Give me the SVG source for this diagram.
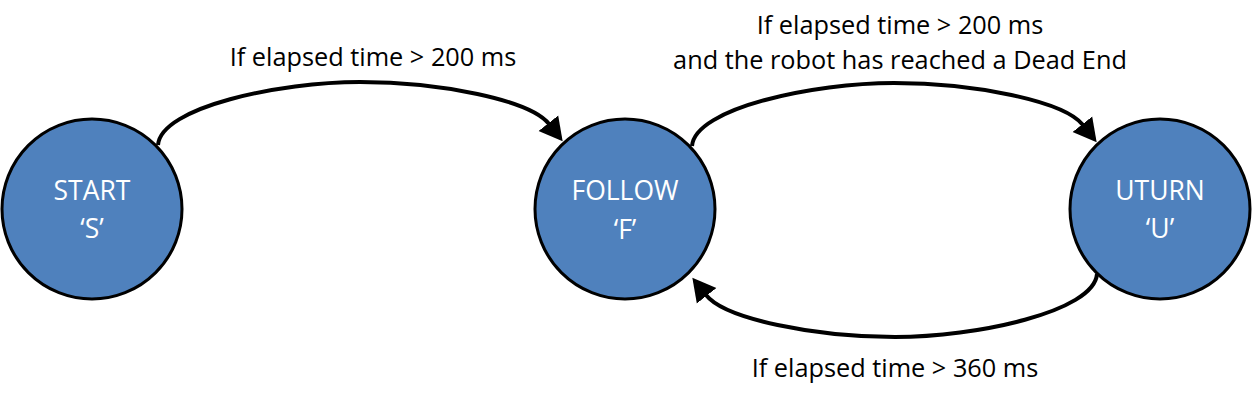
<svg xmlns="http://www.w3.org/2000/svg" width="1252" height="403" viewBox="0 0 1252 403">
<style>
.node{fill:#4F81BD;stroke:#000;stroke-width:3}
.nt{font-family:"Open Sans","Liberation Sans",sans-serif;font-size:26.5px;fill:#fff;text-anchor:middle}
.edge{fill:none;stroke:#000;stroke-width:4}
.lbl{font-family:"Open Sans","Liberation Sans",sans-serif;font-size:25.3px;fill:#000;text-anchor:middle}
</style>
<defs>
<marker id="arr" markerUnits="userSpaceOnUse" viewBox="0 -13 24 26" refX="1" refY="0" markerWidth="24" markerHeight="26" orient="auto">
<path d="M0,-12.5 L23,0 L0,12.5 Z" fill="#000"/>
</marker>
</defs>
<g id="connectors">
<path class="edge" marker-end="url(#arr)" d="M158,145 C161,107 280,82 360,82 C440,82 530,100 549,124"/>
<path class="edge" marker-end="url(#arr)" d="M692,146 C695,108 814,83 894,83 C974,83 1064,101 1083,125"/>
<path class="edge" marker-end="url(#arr)" d="M1097,274 C1094,312 975,337 895,337 C815,337 725,319 706,295"/>
<text class="lbl" x="373" y="66">If elapsed time &gt; 200 ms</text>
<text class="lbl" x="900" y="34">If elapsed time &gt; 200 ms</text>
<text class="lbl" x="900" y="69">and the robot has reached a Dead End</text>
<text class="lbl" x="895" y="377">If elapsed time &gt; 360 ms</text>
</g>
<g id="start">
<circle class="node" cx="92" cy="209" r="90"/>
<text class="nt" x="92" y="200">START</text>
<text class="nt" x="92" y="238">‘S’</text>
</g>
<g id="follow">
<circle class="node" cx="625" cy="209" r="90"/>
<text class="nt" x="625" y="200">FOLLOW</text>
<text class="nt" x="625" y="239">‘F’</text>
</g>
<g id="uturn">
<circle class="node" cx="1160" cy="209" r="90"/>
<text class="nt" x="1160" y="200">UTURN</text>
<text class="nt" x="1160" y="238">‘U’</text>
</g>
</svg>
